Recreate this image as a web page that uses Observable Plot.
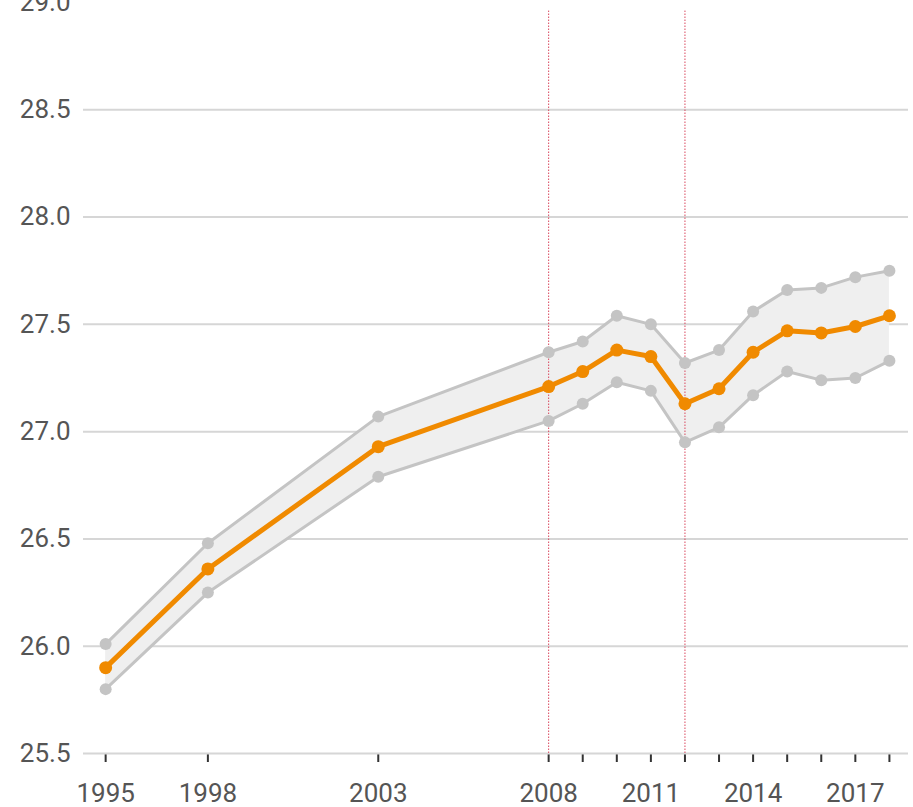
<!DOCTYPE html>
<html>
<head>
<meta charset="utf-8">
<script src="https://cdn.jsdelivr.net/npm/d3@7"></script>
<script src="https://cdn.jsdelivr.net/npm/@observablehq/plot@0.6"></script>
<style>
  html, body { margin: 0; padding: 0; background: #fff; }
  #chart svg { display: block; overflow: visible; }
  #chart [aria-label="x-axis tick"] { stroke: #333; stroke-width: 2; }
</style>
</head>
<body>
<div id="chart"></div>
<script>
const years = [1995, 1998, 2003, 2008, 2009, 2010, 2011, 2012, 2013, 2014, 2015, 2016, 2017, 2018];
const central = [25.90, 26.36, 26.93, 27.21, 27.28, 27.38, 27.35, 27.13, 27.20, 27.37, 27.47, 27.46, 27.49, 27.54];
const upper = [26.01, 26.48, 27.07, 27.37, 27.42, 27.54, 27.50, 27.32, 27.38, 27.56, 27.66, 27.67, 27.72, 27.75];
const lower = [25.80, 26.25, 26.79, 27.05, 27.13, 27.23, 27.19, 26.95, 27.02, 27.17, 27.28, 27.24, 27.25, 27.33];
const labeledYears = [1995, 1998, 2003, 2008, 2011, 2014, 2017];
const yTicks = [25.5, 26.0, 26.5, 27.0, 27.5, 28.0, 28.5, 29.0];
const gridValues = [25.5, 26.0, 26.5, 27.0, 27.5, 28.0, 28.5];
const markerYears = [2008, 2012];

const data = years.map((year, i) => ({year, central: central[i], upper: upper[i], lower: lower[i]}));

const chart = Plot.plot({
  width: 913,
  height: 807,
  marginTop: 2,
  marginBottom: 54,
  marginLeft: 83,
  marginRight: 5,
  style: {fontFamily: "Roboto, sans-serif", fontSize: "26px", color: "#555", background: "#fff"},
  x: {
    type: "linear",
    domain: [1994.35, 2018.56],
    ticks: years,
    tickFormat: d => labeledYears.includes(d) ? String(d) : "",
    tickSize: 9,
    tickPadding: 21,
    label: null
  },
  y: {
    domain: [25.5, 29.0],
    ticks: yTicks,
    tickFormat: d3.format(".1f"),
    tickSize: 0,
    tickPadding: 13,
    label: null
  },
  marks: [
    Plot.ruleY(gridValues, {stroke: "#d6d6d6", strokeWidth: 2}),
    Plot.areaY(data, {x: "year", y1: "lower", y2: "upper", fill: "#efefef"}),
    Plot.ruleX(markerYears, {y1: 25.5, y2: 28.96, stroke: "#d9485e", strokeWidth: 1, strokeDasharray: "1.5,1.5"}),
    Plot.line(data, {x: "year", y: "upper", stroke: "#c4c4c4", strokeWidth: 3}),
    Plot.line(data, {x: "year", y: "lower", stroke: "#c4c4c4", strokeWidth: 3}),
    Plot.dot(data, {x: "year", y: "upper", r: 6, fill: "#c4c4c4"}),
    Plot.dot(data, {x: "year", y: "lower", r: 6, fill: "#c4c4c4"}),
    Plot.line(data, {x: "year", y: "central", stroke: "#f08a00", strokeWidth: 5}),
    Plot.dot(data, {x: "year", y: "central", r: 6.5, fill: "#f08a00"})
  ]
});
document.getElementById("chart").appendChild(chart);
</script>
</body>
</html>
